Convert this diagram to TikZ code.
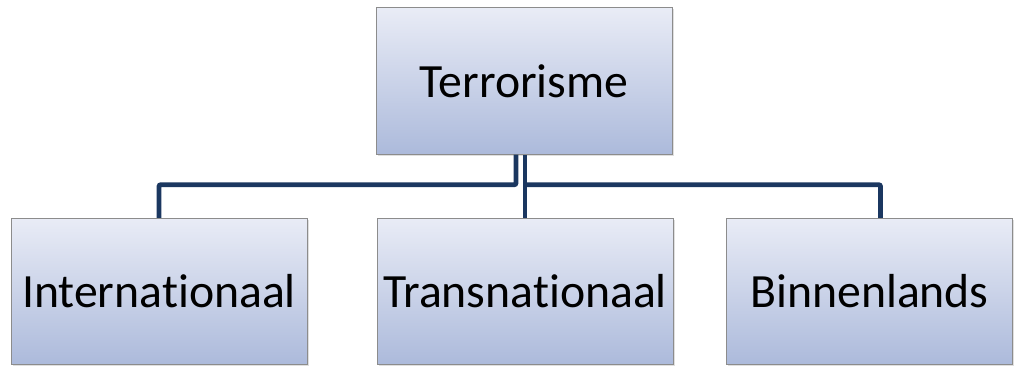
\documentclass[tikz,border=0pt]{standalone}
\usepackage{fontspec}
\setmainfont[Ligatures={NoCommon}]{Carlito}
\usetikzlibrary{calc,shadows}

\definecolor{navy}{RGB}{27,55,96}
\definecolor{boxtop}{RGB}{233,236,246}
\definecolor{boxbot}{RGB}{172,186,219}

\begin{document}
\begin{tikzpicture}[
  x=0.75pt,y=-0.75pt,
  font=\fontsize{35.8}{41}\selectfont,
  unit/.style={rectangle,draw=black!45,line width=0.6pt,top color=boxtop,bottom color=boxbot,
    minimum width=222pt,minimum height=110pt,inner sep=2pt,align=center,
    drop shadow={opacity=0.25,shadow xshift=1.2pt,shadow yshift=-1.2pt}},
  conn/.style={draw=navy,line width=3.7pt,rounded corners=1.5pt}
]
\useasboundingbox (0,0) rectangle (1017,367);

% Top
\node[unit] (terror) at (524,81) {Terrorisme};

% Bottom row
\node[unit] (inter) at (159,291.5) {Internationaal};
\node[unit] (trans) at (525,291.5) {Transnationaal};
\node[unit,minimum width=214pt] (binnen) at (869.5,291.5) {Binnenlands};

% Connectors
\draw[conn] ($(terror.south)+(-8,0)$) -- ++(0,30) -| (inter.north);
\draw[conn] (trans.north) -- (trans.north |- terror.south);
\draw[conn] ($(terror.south)+(-1,30)$) -| ($(binnen.north)+(11,0)$);

\end{tikzpicture}
\end{document}
